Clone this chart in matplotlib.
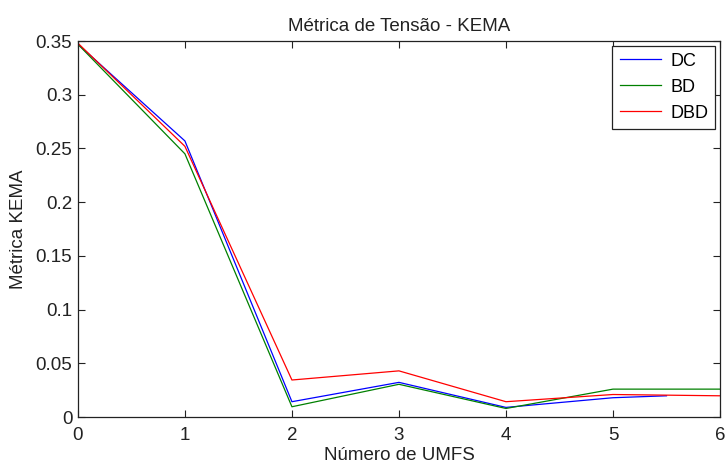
import matplotlib.pyplot as plt
import numpy as np

plt.rcParams['font.family'] = ['Liberation Sans', 'DejaVu Sans']

# Métrica KEMA por número de UMFS
umfs = [0, 1, 2, 3, 4, 5, 6]
umfs_dc = [0, 1, 2, 3, 4, 5, 5.5]
dc = [0.347, 0.257, 0.0143, 0.0323, 0.0090, 0.0180, 0.0198]
bd = [0.347, 0.245, 0.0096, 0.0305, 0.0080, 0.0260, 0.0260]
dbd = [0.348, 0.252, 0.0345, 0.0430, 0.0143, 0.0210, 0.0198]

fig = plt.figure(figsize=(7.28, 4.66), dpi=100)
ax = fig.add_axes([0.107, 0.105, 0.882, 0.807])

ax.plot(umfs_dc, dc, color='#0000ff', lw=0.9, label='DC')
ax.plot(umfs, bd, color='#008000', lw=0.9, label='BD')
ax.plot(umfs, dbd, color='#ff0000', lw=0.9, label='DBD')

ax.set_xlim(0, 6)
ax.set_ylim(0, 0.35)
ax.set_xticks(np.arange(0, 7, 1))
ax.set_yticks(np.arange(0, 0.351, 0.05))
ax.set_yticklabels(['0', '0.05', '0.1', '0.15', '0.2', '0.25', '0.3', '0.35'])
ax.tick_params(direction='in', top=True, right=True, length=5, width=0.8,
               labelsize=13.5, colors='#222222')
ax.tick_params(axis='x', pad=7)
ax.tick_params(axis='y', pad=4)
for s in ax.spines.values():
    s.set_linewidth(0.9)
    s.set_color('#222222')

ax.set_title('Métrica de Tensão - KEMA', fontsize=13.5, pad=7, color='#222222')
ax.set_xlabel('Número de UMFS', fontsize=13.5, labelpad=2.5, color='#222222')
ax.set_ylabel('Métrica KEMA', fontsize=13.5, labelpad=6, color='#222222')

leg = ax.legend(loc='upper right', fontsize=13, fancybox=False, framealpha=1,
                edgecolor='#222222', handlelength=2.3, borderaxespad=0.25,
                labelspacing=0.5, borderpad=0.4, handletextpad=0.5)
leg.get_frame().set_linewidth(0.9)

fig.savefig('out.png', dpi=100)
